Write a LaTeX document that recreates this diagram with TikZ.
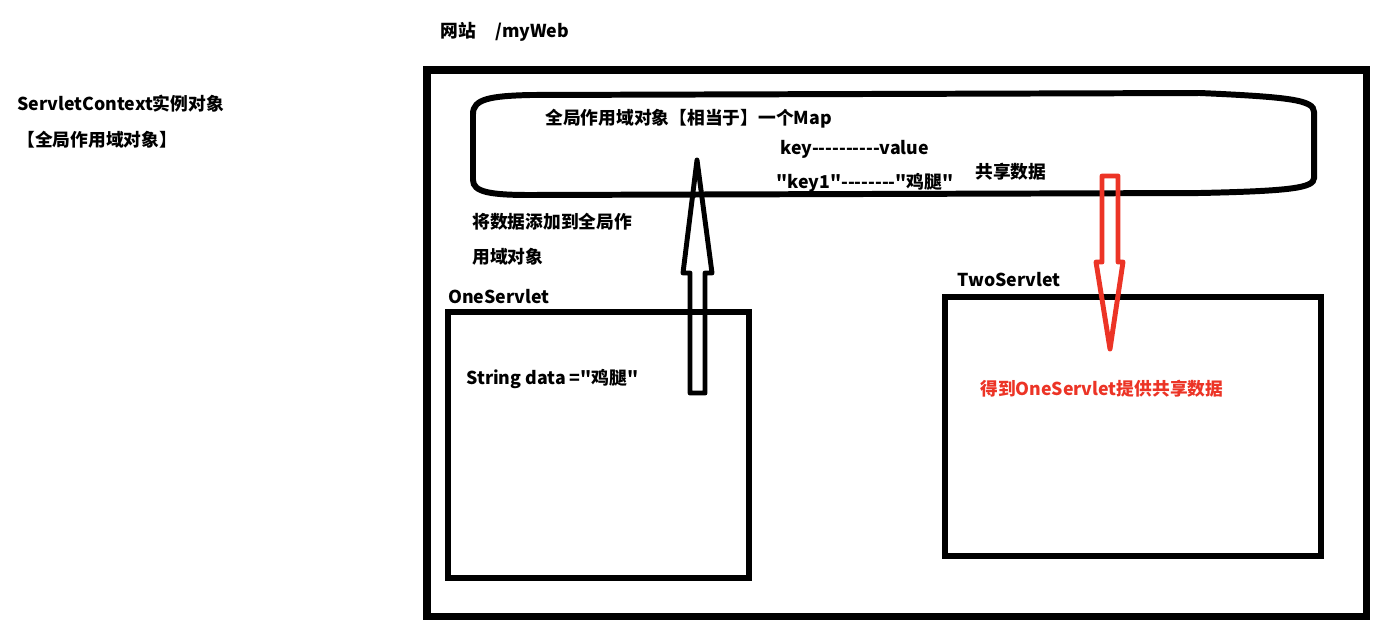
\documentclass[tikz,border=0pt]{standalone}
\usepackage{fontspec}
\newfontfamily\cjk{Noto Sans CJK SC}
\usetikzlibrary{positioning}
\definecolor{sharered}{RGB}{236,52,38}

\begin{document}
\begin{tikzpicture}[x=0.02cm, y=-0.02cm,
    font=\cjk\bfseries\fontsize{10.1}{12}\selectfont,
    txt/.style={anchor=west, inner sep=0pt},
    frame/.style={line width=4pt},
    box/.style={line width=3.4pt},
    blockarrow/.style={line width=2.8pt, line join=round}]
    \useasboundingbox (0,0) rectangle (1385,633);

    % Site and context labels
    \node[txt] (site) at (440,32) {网站\hspace{1.1em}/myWeb};
    \node[txt] (ctx) at (17,104) {ServletContext实例对象};
    \node[txt] (ctxsub) at (17,140) {【全局作用域对象】};

    % Website frame
    \draw[frame] (427,70) rectangle (1366,616);

    % Global scope object
    \draw[box] (473,114) .. controls (473,99) and (490,96) .. (530,95)
        -- (1200,93) .. controls (1290,97) and (1314,100) .. (1314,112)
        -- (1314,178) .. controls (1314,188) and (1290,191) .. (1200,193)
        -- (530,195) .. controls (490,195) and (473,192) .. (473,180) -- cycle;
    \node[txt] (map) at (545,119) {全局作用域对象【相当于】一个Map};
    \node[txt] (kv) at (780,149) {key----------value};
    \node[txt] (kv1) at (776,183) {"key1"--------"鸡腿"};
    \node[txt] (share) at (975,172) {共享数据};

    % OneServlet
    \draw[box] (448,312) rectangle (749,578);
    \node[txt] (one) at (448,297) {OneServlet};
    \node[txt] (data) at (466,379) {String data ="鸡腿"};
    \node[txt] (add1) at (472,222) {将数据添加到全局作};
    \node[txt] (add2) at (472,257) {用域对象};

    % TwoServlet
    \draw[box] (945,297) rectangle (1321,556);
    \node[txt] (two) at (957,280) {TwoServlet};
    \node[txt, text=sharered] (get) at (980,389) {得到OneServlet提供共享数据};

    % Put data into the global scope
    \coordinate (puttip) at (697,160);
    \draw[blockarrow] (690,393) -- (690,273) -- (683,273) -- (puttip)
        -- (712,273) -- (705,273) -- (705,393) -- cycle;

    % Read shared data
    \coordinate (gettip) at (1110,349);
    \draw[blockarrow, sharered] (1102,176) -- (1118,176) -- (1118,262)
        -- (1123,262) -- (gettip) -- (1096,262) -- (1102,262) -- cycle;
\end{tikzpicture}
\end{document}
